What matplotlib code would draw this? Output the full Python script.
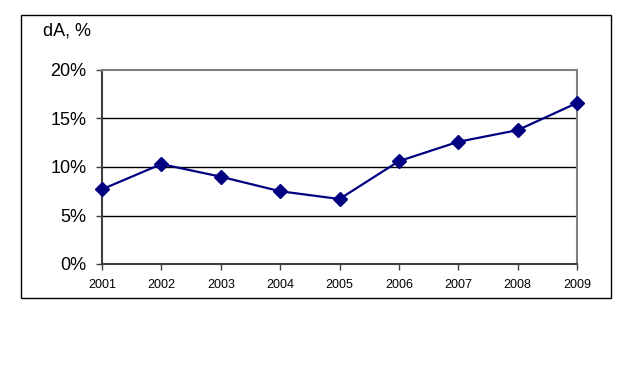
import matplotlib.pyplot as plt
import matplotlib.patches as pt

plt.rcParams['font.family'] = ['Liberation Sans', 'DejaVu Sans']

years = [2001, 2002, 2003, 2004, 2005, 2006, 2007, 2008, 2009]
dA = [7.7, 10.3, 9.0, 7.5, 6.7, 10.6, 12.6, 13.8, 16.6]
y_ticks = [0, 5, 10, 15, 20]
y_labels = ["0%", "5%", "10%", "15%", "20%"]

W, H = 636, 391
fig = plt.figure(figsize=(W / 100, H / 100), dpi=100)

# outer chart frame
fig.patches.append(pt.Rectangle((21 / W, 1 - 298 / H), 590 / W, 283 / H,
                                transform=fig.transFigure, fill=False,
                                edgecolor="black", linewidth=1))

ax = fig.add_axes([102 / W, 1 - 264 / H, 475 / W, 194 / H])
for yv in y_ticks[1:-1]:
    ax.axhline(yv, color="black", linewidth=1, zorder=1)
ax.plot(years, dA, color="#000080", linewidth=1.6, marker="D",
        markersize=7, zorder=3, clip_on=False)

ax.set_xlim(years[0], years[-1])
ax.set_ylim(0, 20)
ax.set_xticks(years)
ax.set_xticklabels([str(y) for y in years], fontsize=9)
ax.set_yticks(y_ticks)
ax.set_yticklabels(y_labels, fontsize=13)
ax.tick_params(axis="both", direction="out", length=4, width=1,
               color="#404040")
ax.tick_params(axis="x", pad=7)
ax.tick_params(axis="y", pad=7)

for side in ["top", "right"]:
    ax.spines[side].set_color("#808080")
    ax.spines[side].set_linewidth(1.5)
for side in ["left", "bottom"]:
    ax.spines[side].set_color("#404040")
    ax.spines[side].set_linewidth(1.5)

fig.text(43 / W, 1 - 31 / H, "dA, %", fontsize=13, va="center", ha="left")

fig.savefig("out.png", dpi=100)
